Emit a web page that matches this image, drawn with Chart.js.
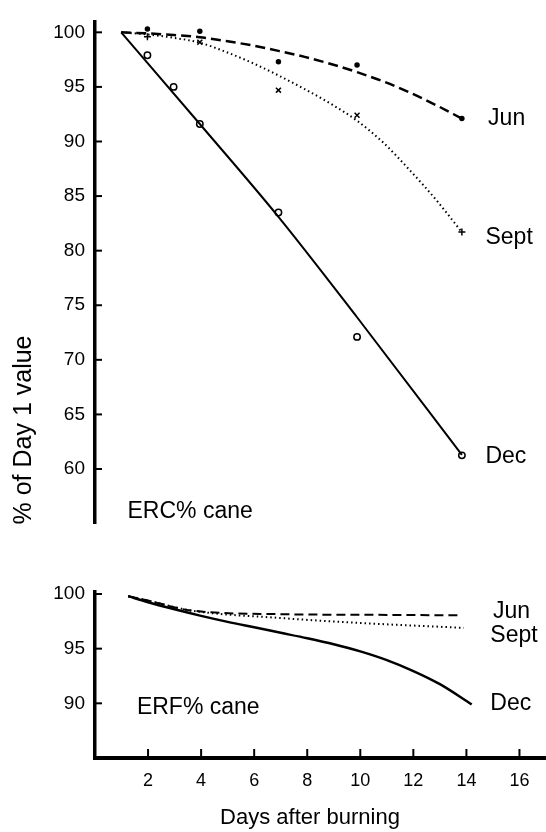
<!DOCTYPE html>
<html>
<head>
<meta charset="utf-8">
<title>ERC and ERF after burning</title>
<script src="https://cdn.jsdelivr.net/npm/chart.js@4.4.0/dist/chart.umd.min.js"></script>
<style>
    html, body { margin: 0; padding: 0; background: #fff; }
    #wrap { position: relative; width: 546px; height: 832px; }
    #topBox { position: absolute; left: 0; top: 0; width: 546px; height: 545px; }
    #bottomBox { position: absolute; left: 0; top: 560px; width: 546px; height: 272px; }
</style>
</head>
<body>
<div id="wrap">
    <div id="topBox"><canvas id="ercChart"></canvas></div>
    <div id="bottomBox"><canvas id="erfChart"></canvas></div>
</div>
<script>
// ========================================
// Data
// ========================================

const xTicks = [2, 4, 6, 8, 10, 12, 14, 16];
const ercTicks = [60, 65, 70, 75, 80, 85, 90, 95, 100];
const erfTicks = [90, 95, 100];

// ERC% cane - measured points
const junObsDays = [2, 4, 7, 10, 14];
const junObs = [100.3, 100.1, 97.3, 97.0, 92.1];
const septObsDays = [2, 4, 7, 10, 14];
const septObs = [99.6, 99.1, 94.7, 92.4, 81.7];
const decObsDays = [2, 3, 4, 7, 10, 14];
const decObs = [97.9, 95.0, 91.6, 83.5, 72.1, 61.25];

// ERC% cane - fitted curves
const junFitDays = [1, 2, 3, 4, 5, 6, 7, 8, 9, 10, 11, 12, 13, 14];
const junFit = [100, 99.9, 99.75, 99.55, 99.2, 98.8, 98.3, 97.75, 97.1, 96.35, 95.5, 94.5, 93.35, 92.1];
const septFitDays = [1, 2, 3, 4, 5, 6, 7, 8, 9, 10, 11, 12, 13, 14];
const septFit = [100, 99.8, 99.5, 99.05, 98.2, 97.2, 96.05, 94.8, 93.45, 91.9, 89.9, 87.4, 84.7, 81.7];
const decFitDays = [1, 4, 7, 10, 14];
const decFit = [100, 91.6, 83.1, 73.9, 61.3];

// ERF% cane - fitted curves
const erfJunDays = [1.25, 2, 3.6, 7, 10, 13.8];
const erfJun = [99.8, 99.4, 98.5, 98.15, 98.1, 98.05];
const erfSeptDays = [1.25, 2, 3.6, 7, 10, 13.9];
const erfSept = [99.8, 99.4, 98.5, 97.8, 97.35, 96.9];
const erfDecDays = [1.25, 2, 3, 4, 5, 6, 7, 8, 9, 10, 11, 12, 13, 14.2];
const erfDec = [99.8, 99.25, 98.6, 98.0, 97.45, 96.95, 96.45, 95.95, 95.4, 94.75, 93.95, 92.95, 91.75, 89.9];

// ========================================
// Helpers
// ========================================

const FONT = '"Liberation Sans", Arial, Helvetica, sans-serif';

function toPoints(days, values) {
    return days.map((d, i) => ({ x: d, y: values[i] }));
}

function fitLine(days, values, dash, width) {
    return {
        data: toPoints(days, values),
        showLine: true,
        borderColor: '#000',
        borderWidth: width,
        borderDash: dash,
        pointRadius: 0,
        cubicInterpolationMode: 'monotone',
        fill: false
    };
}

function markers(days, values, style, radius, fillColor) {
    return {
        data: toPoints(days, values),
        showLine: false,
        pointStyle: style,
        pointRadius: radius,
        pointBorderWidth: 1.5,
        pointBorderColor: '#000',
        pointBackgroundColor: fillColor
    };
}

// tick marks drawn on the inner side of the axes
const inwardTicks = {
    id: 'inwardTicks',
    afterDraw(chart) {
        const { ctx, chartArea } = chart;
        ctx.save();
        ctx.strokeStyle = '#000';
        ctx.lineWidth = 2;
        const y = chart.scales.y;
        y.ticks.forEach(t => {
            const py = y.getPixelForValue(t.value);
            ctx.beginPath();
            ctx.moveTo(chartArea.left, py);
            ctx.lineTo(chartArea.left + 7, py);
            ctx.stroke();
        });
        const x = chart.scales.x;
        if (x.options.display) {
            x.ticks.forEach(t => {
                const px = x.getPixelForValue(t.value);
                ctx.beginPath();
                ctx.moveTo(px, chartArea.bottom);
                ctx.lineTo(px, chartArea.bottom - 9);
                ctx.stroke();
            });
        }
        ctx.restore();
    }
};

// series names, panel captions and axis titles
const curveLabels = {
    id: 'curveLabels',
    afterDraw(chart, args, opts) {
        const { ctx } = chart;
        const x = chart.scales.x, y = chart.scales.y;
        ctx.save();
        ctx.fillStyle = '#000';
        ctx.font = '23px ' + FONT;
        ctx.textAlign = 'left';
        ctx.textBaseline = 'middle';
        (opts.items || []).forEach(it => {
            ctx.fillText(it.text, x.getPixelForValue(it.x), y.getPixelForValue(it.y));
        });
        if (opts.xTitle) {
            ctx.font = '22px ' + FONT;
            ctx.textAlign = 'center';
            ctx.fillText(opts.xTitle.text, opts.xTitle.px, opts.xTitle.py);
        }
        if (opts.yTitle) {
            ctx.translate(opts.yTitle.px, opts.yTitle.py);
            ctx.rotate(-Math.PI / 2);
            ctx.font = '25px ' + FONT;
            ctx.textAlign = 'center';
            ctx.textBaseline = 'alphabetic';
            ctx.fillText(opts.yTitle.text, 0, 0);
        }
        ctx.restore();
    }
};

function yScale(min, max, ticks) {
    return {
        type: 'linear',
        min: min,
        max: max,
        afterBuildTicks: s => { s.ticks = ticks.map(v => ({ value: v })); },
        afterFit: s => { s.width = 95; },
        grid: { display: false, drawTicks: false },
        border: { display: true, width: 3.5, color: '#000' },
        ticks: { color: '#000', padding: 10, font: { family: FONT, size: 19 } }
    };
}

// ========================================
// ERC% cane
// ========================================

new Chart(document.getElementById('ercChart'), {
    type: 'scatter',
    data: {
        datasets: [
            fitLine(junFitDays, junFit, [10, 5], 2.5),
            fitLine(septFitDays, septFit, [1.5, 3], 2),
            fitLine(decFitDays, decFit, [], 2),
            markers(junObsDays, junObs, 'circle', 2, '#000'),
            markers(septObsDays, septObs, ['cross', 'crossRot', 'crossRot', 'crossRot', 'cross'], 3.5, '#000'),
            markers(decObsDays, decObs, 'circle', 3.2, '#fff')
        ]
    },
    options: {
        responsive: true,
        maintainAspectRatio: false,
        animation: false,
        layout: { padding: { top: 17.8, right: 0, bottom: 12, left: 0 } },
        plugins: {
            legend: { display: false },
            tooltip: { enabled: false },
            curveLabels: {
                items: [
                    { text: 'Jun', x: 15, y: 92.1 },
                    { text: 'Sept', x: 14.9, y: 81.2 },
                    { text: 'Dec', x: 14.9, y: 61.1 },
                    { text: 'ERC% cane', x: 1.24, y: 56.1 }
                ],
                yTitle: { text: '% of Day 1 value', px: 31, py: 430 }
            }
        },
        scales: {
            x: { type: 'linear', min: 0, max: 17, display: false },
            y: yScale(55, 101, ercTicks)
        }
    },
    plugins: [inwardTicks, curveLabels]
});

// ========================================
// ERF% cane
// ========================================

new Chart(document.getElementById('erfChart'), {
    type: 'scatter',
    data: {
        datasets: [
            fitLine(erfJunDays, erfJun, [9, 5], 2),
            fitLine(erfSeptDays, erfSept, [1.5, 3], 2),
            fitLine(erfDecDays, erfDec, [], 2.5)
        ]
    },
    options: {
        responsive: true,
        maintainAspectRatio: false,
        animation: false,
        layout: { padding: { top: 31.8, right: 0, bottom: 0, left: 0 } },
        plugins: {
            legend: { display: false },
            tooltip: { enabled: false },
            curveLabels: {
                items: [
                    { text: 'Jun', x: 15, y: 98.4 },
                    { text: 'Sept', x: 14.9, y: 96.2 },
                    { text: 'Dec', x: 14.9, y: 89.95 },
                    { text: 'ERF% cane', x: 1.58, y: 89.6 }
                ],
                xTitle: { text: 'Days after burning', px: 310, py: 258 }
            }
        },
        scales: {
            x: {
                type: 'linear',
                min: 0,
                max: 17,
                afterBuildTicks: s => { s.ticks = xTicks.map(v => ({ value: v })); },
                afterFit: s => { s.height = 74; },
                grid: { display: false, drawTicks: false },
                border: { display: true, width: 4, color: '#000' },
                ticks: { color: '#000', padding: 12, maxRotation: 0, font: { family: FONT, size: 18 } }
            },
            y: yScale(85, 100.2, erfTicks)
        }
    },
    plugins: [inwardTicks, curveLabels]
});
</script>
</body>
</html>
